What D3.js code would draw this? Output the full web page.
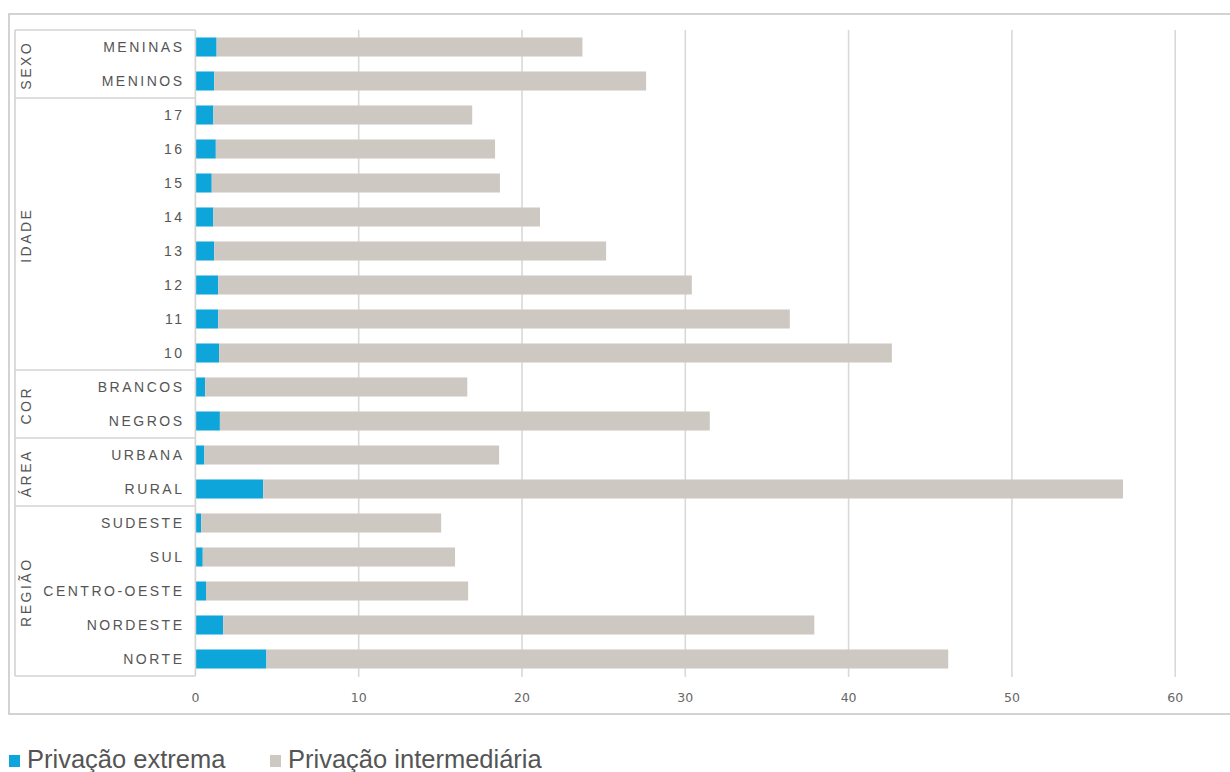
<!DOCTYPE html>
<html>
<head>
<meta charset="utf-8">
<script src="https://cdn.jsdelivr.net/npm/d3@7/dist/d3.min.js"></script>
<style>
  html, body { margin: 0; padding: 0; background: #fff; }
  svg { display: block; }
</style>
</head>
<body>
<svg id="chart" width="1230" height="772"></svg>
<script>
const categories = ["MENINAS","MENINOS","17","16","15","14","13","12","11","10","BRANCOS","NEGROS","URBANA","RURAL","SUDESTE","SUL","CENTRO-OESTE","NORDESTE","NORTE"];
const extreme = [1.3,1.15,1.1,1.25,1.0,1.1,1.15,1.4,1.4,1.45,0.6,1.5,0.55,4.15,0.35,0.45,0.65,1.7,4.35];
const intermediate = [22.4,26.45,15.85,17.1,17.65,20.0,24.0,29.0,35.0,41.2,16.05,30.0,18.05,52.65,14.7,15.45,16.05,36.2,41.75];
const groups = [
  {name:"SEXO", first:"MENINAS", last:"MENINOS"},
  {name:"IDADE", first:"17", last:"10"},
  {name:"COR", first:"BRANCOS", last:"NEGROS"},
  {name:"ÁREA", first:"URBANA", last:"RURAL"},
  {name:"REGIÃO", first:"SUDESTE", last:"NORTE"}
];
const xTicks = [0,10,20,30,40,50,60];
const seriesNames = ["Privação extrema","Privação intermediária"];
const colors = ["#0ea5db","#cec8c2"];

const svg = d3.select("#chart");
const lineColor = "#d3d3d3";

// outer frame
svg.append("rect").attr("x",9).attr("y",14).attr("width",1240).attr("height",700)
  .attr("fill","none").attr("stroke",lineColor).attr("stroke-width",2);

const x = d3.scaleLinear().domain([0,60]).range([195.4,1175.2]);
const y = d3.scaleBand().domain(categories).range([30,676]).paddingInner(0.44).paddingOuter(0.22);
const step = y.step();
const rowTop = c => y(c) - y.paddingInner()*step/2;
const rowBottom = c => y(c) + y.bandwidth() + y.paddingInner()*step/2;

// gridlines
svg.append("g").selectAll("line").data(xTicks.filter(d=>d>0)).join("line")
  .attr("x1",d=>x(d)).attr("x2",d=>x(d)).attr("y1",30).attr("y2",677)
  .attr("stroke","#d9d9d9").attr("stroke-width",1.6);

// axis tick labels
svg.append("g").selectAll("text").data(xTicks).join("text")
  .attr("x",d=>x(d)).attr("y",701.5).attr("text-anchor","middle")
  .attr("font-family","DejaVu Sans, sans-serif").attr("font-size",12.5).attr("fill","#666")
  .text(d=>d);

// stacked bars
const stackData = categories.map((c,i)=>({cat:c, extreme:extreme[i], intermediate:intermediate[i]}));
const stack = d3.stack().keys(["extreme","intermediate"])(stackData);
svg.append("g").selectAll("g").data(stack).join("g")
  .attr("fill",(d,i)=>colors[i])
  .selectAll("rect").data(d=>d).join("rect")
  .attr("x",d=>x(d[0])).attr("width",d=>x(d[1])-x(d[0]))
  .attr("y",d=>y(d.data.cat)).attr("height",y.bandwidth());

// label table
const tbl = svg.append("g").attr("stroke",lineColor).attr("stroke-width",1.6);
const tTop = rowTop(categories[0]), tBot = rowBottom(categories[categories.length-1]);
tbl.append("line").attr("x1",15).attr("x2",15).attr("y1",tTop).attr("y2",tBot);
tbl.append("line").attr("x1",195.4).attr("x2",195.4).attr("y1",tTop).attr("y2",tBot);
const bounds = [tTop].concat(groups.map(g=>rowBottom(g.last)));
tbl.selectAll("line.h").data(bounds).join("line").attr("class","h")
  .attr("x1",15).attr("x2",195.4).attr("y1",d=>d).attr("y2",d=>d);

// category labels
svg.append("g").selectAll("text").data(categories).join("text")
  .attr("x",184.5).attr("y",c=>y(c)+y.bandwidth()/2).attr("dy","0.36em")
  .attr("text-anchor","end").attr("font-family","Liberation Sans, Arial, sans-serif")
  .attr("font-size",14).attr("letter-spacing","2.5px").attr("fill","#555")
  .text(c=>c);

// group labels (rotated)
svg.append("g").selectAll("text").data(groups).join("text")
  .attr("transform",g=>{
    const cy = (rowTop(g.first)+rowBottom(g.last))/2;
    return `translate(31,${cy + 1.2}) rotate(-90)`;
  })
  .attr("text-anchor","middle").attr("font-family","Liberation Sans, Arial, sans-serif")
  .attr("font-size",14).attr("letter-spacing","2.5px").attr("fill","#555")
  .text(g=>g.name);

// legend
const legX = [9, 270];
const leg = svg.append("g").selectAll("g").data(seriesNames).join("g")
  .attr("transform",(d,i)=>`translate(${legX[i]},0)`);
leg.append("rect").attr("x",0).attr("y",755).attr("width",11).attr("height",12)
  .attr("fill",(d,i)=>colors[i]);
leg.append("text").attr("x",18).attr("y",768)
  .attr("font-family","Liberation Sans, Arial, sans-serif").attr("font-size",25.5)
  .attr("fill","#555").text(d=>d);
</script>
</body>
</html>
